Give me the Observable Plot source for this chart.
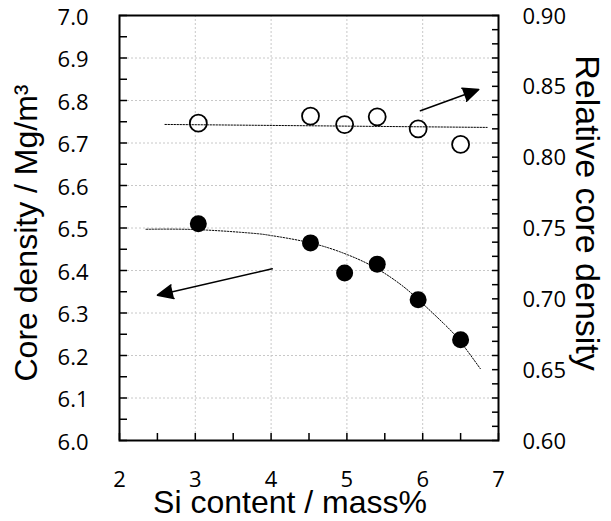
<!DOCTYPE html>
<html><head><meta charset="utf-8">
<script src="https://cdn.jsdelivr.net/npm/d3@7"></script>
<script src="https://cdn.jsdelivr.net/npm/@observablehq/plot@0.6"></script>
<style>body{margin:0;background:#fff}</style>
</head><body><div id="chart"></div>
<script>
// Data
const siContent = [3.04, 4.52, 4.97, 5.40, 5.94, 6.50];
const coreDensity = [6.51, 6.465, 6.394, 6.415, 6.331, 6.237];
const relativeDensity = [0.824, 0.829, 0.823, 0.8285, 0.820, 0.809];
// Trend lines
const coreTrendX = [2.35, 3.04, 3.73, 4.01, 4.52, 5.01, 5.40, 5.71, 5.94, 6.29, 6.50, 6.76];
const coreTrendY = [6.497, 6.496, 6.488, 6.482, 6.465, 6.437, 6.404, 6.367, 6.332, 6.273, 6.232, 6.169];
const relTrendX = [2.60, 6.85];
const relTrendY = [0.8231, 0.8210];
// Annotation arrows (tail -> tip), in x / left-axis units
const arrowX1 = [5.97, 4.015];
const arrowY1 = [6.776, 6.404];
const arrowX2 = [6.74, 2.50];
const arrowY2 = [6.826, 6.342];
// Tick labels
const xTicks = [2, 3, 4, 5, 6, 7];
const leftTicks = [6.0, 6.1, 6.2, 6.3, 6.4, 6.5, 6.6, 6.7, 6.8, 6.9, 7.0];
const rightTicks = [0.60, 0.65, 0.70, 0.75, 0.80, 0.85, 0.90];

const toLeft = r => 6 + (r - 0.6) / 0.3;
const toRight = l => (l - 6) * 0.3 + 0.6;

const points = siContent.map((x, i) => ({x, core: coreDensity[i], rel: relativeDensity[i]}));
const coreTrend = coreTrendX.map((x, i) => ({x, y: coreTrendY[i]}));
const relTrend = relTrendX.map((x, i) => ({x, y: toLeft(relTrendY[i])}));
const arrows = arrowX1.map((x1, i) => ({x1, y1: arrowY1[i], x2: arrowX2[i], y2: arrowY2[i]}));

const xMinor = d3.range(0, 11).map(i => 2 + i * 0.5);
const leftMinor = d3.range(0, 21).map(i => 6 + i * 0.05);
const rightMinor = d3.range(0, 31).map(i => toLeft(0.6 + i * 0.01));

const tickFont = {fontSize: 22, fontFamily: "Open Sans"};
const titleFont = {fontSize: 32, fontFamily: "Liberation Sans", textAnchor: "middle", lineAnchor: "middle"};

const chart = Plot.plot({
  width: 611,
  height: 521,
  marginLeft: 119,
  marginRight: 113,
  marginTop: 15,
  marginBottom: 81,
  style: {fontFamily: "Open Sans", fontSize: "22px", background: "#fff", color: "#000"},
  x: {domain: [2, 7], axis: null},
  y: {domain: [6, 7], axis: null},
  marks: [
    Plot.gridX([3, 4, 5, 6], {stroke: "#c8c8c8", strokeOpacity: 1, strokeDasharray: "2,2"}),
    Plot.gridY([6.1, 6.2, 6.3, 6.4, 6.5, 6.6, 6.7, 6.8, 6.9], {stroke: "#c8c8c8", strokeOpacity: 1, strokeDasharray: "2,2"}),
    // left axis
    Plot.axisY(leftTicks, {anchor: "left", tickSize: 0, tickPadding: 31, dy: 2, tickFormat: d => d.toFixed(1), ...tickFont}),
    Plot.axisY(leftMinor, {anchor: "left", tickSize: -8, strokeWidth: 1.5, tickFormat: () => ""}),
    // right axis
    Plot.axisY(rightTicks.map(toLeft), {anchor: "right", tickSize: 0, tickPadding: 24, dy: 1, tickFormat: d => toRight(d).toFixed(2), ...tickFont}),
    Plot.axisY(rightMinor, {anchor: "right", tickSize: -7, strokeWidth: 1.5, tickFormat: () => ""}),
    // bottom axis
    Plot.axisX(xTicks, {anchor: "bottom", tickSize: 0, tickPadding: 31, tickFormat: d => String(d), ...tickFont}),
    Plot.axisX(xMinor, {anchor: "bottom", tickSize: -7, strokeWidth: 1.5, tickFormat: () => ""}),
    Plot.frame({stroke: "#000", strokeWidth: 2}),
    // points
    Plot.dot(points, {x: "x", y: d => toLeft(d.rel), r: 8.5, stroke: "#000", strokeWidth: 1.8, fill: "#fff"}),
    Plot.dot(points, {x: "x", y: "core", r: 8.5, fill: "#000", stroke: "none"}),
    // trend lines
    Plot.line(relTrend, {x: "x", y: "y", stroke: "#000", strokeWidth: 1, strokeDasharray: "1.5,1.5"}),
    Plot.line(coreTrend, {x: "x", y: "y", curve: "natural", stroke: "#000", strokeWidth: 1, strokeDasharray: "1.5,1.5"}),
    // arrows
    Plot.arrow(arrows, {x1: "x1", y1: "y1", x2: "x2", y2: "y2", stroke: "#000", fill: "#000", strokeWidth: 1.5, headLength: 17, headAngle: 48}),
    // titles
    Plot.text(["Core density / Mg/m³"], {frameAnchor: "left", dx: -93, dy: 5, rotate: -90, ...titleFont}),
    Plot.text(["Relative core density"], {frameAnchor: "right", dx: 88, dy: -15, rotate: 90, ...titleFont, fontSize: 34}),
    Plot.text(["Si content / mass%"], {frameAnchor: "bottom", dx: -19, dy: 62, ...titleFont})
  ]
});
document.getElementById("chart").appendChild(chart);
</script>
</body></html>
